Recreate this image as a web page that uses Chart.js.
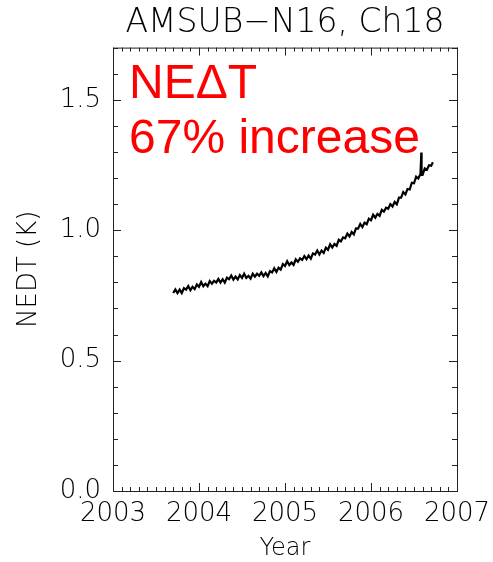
<!DOCTYPE html>
<html>
<head>
<meta charset="utf-8">
<script src="https://cdn.jsdelivr.net/npm/chart.js@4.4.1/dist/chart.umd.min.js"></script>
<style>
  html, body { margin: 0; padding: 0; background: #fff; }
  #wrap { width: 493px; height: 562px; }
</style>
</head>
<body>
<div id="wrap"><canvas id="nedtChart" width="493" height="562"></canvas></div>
<script>
// AMSU-B NOAA-16 channel 18 noise (NEDT) time series
const years = [
    2003.700, 2003.725, 2003.750, 2003.775, 2003.800, 2003.825, 2003.850, 2003.875, 2003.900, 2003.925,
    2003.950, 2003.975, 2004.000, 2004.025, 2004.050, 2004.075, 2004.100, 2004.125, 2004.150, 2004.175,
    2004.200, 2004.225, 2004.250, 2004.275, 2004.300, 2004.325, 2004.350, 2004.375, 2004.400, 2004.425,
    2004.450, 2004.475, 2004.500, 2004.525, 2004.550, 2004.575, 2004.600, 2004.625, 2004.650, 2004.675,
    2004.700, 2004.725, 2004.750, 2004.775, 2004.800, 2004.825, 2004.850, 2004.875, 2004.900, 2004.925,
    2004.950, 2004.975, 2005.000, 2005.025, 2005.050, 2005.075, 2005.100, 2005.125, 2005.150, 2005.175,
    2005.200, 2005.225, 2005.250, 2005.275, 2005.300, 2005.325, 2005.350, 2005.375, 2005.400, 2005.425,
    2005.450, 2005.475, 2005.500, 2005.525, 2005.550, 2005.575, 2005.600, 2005.625, 2005.650, 2005.675,
    2005.700, 2005.725, 2005.750, 2005.775, 2005.800, 2005.825, 2005.850, 2005.875, 2005.900, 2005.925,
    2005.950, 2005.975, 2006.000, 2006.025, 2006.050, 2006.075, 2006.100, 2006.125, 2006.150, 2006.175,
    2006.200, 2006.225, 2006.250, 2006.275, 2006.300, 2006.325, 2006.350, 2006.375, 2006.400, 2006.425,
    2006.450, 2006.475, 2006.500, 2006.525, 2006.550, 2006.575, 2006.585, 2006.588, 2006.600, 2006.625,
    2006.650, 2006.675, 2006.700, 2006.720
];
const nedt = [
    0.759, 0.773, 0.759, 0.772, 0.759, 0.778, 0.772, 0.786, 0.770, 0.783,
    0.774, 0.792, 0.783, 0.801, 0.785, 0.795, 0.785, 0.805, 0.795, 0.806,
    0.799, 0.813, 0.799, 0.812, 0.799, 0.818, 0.812, 0.826, 0.810, 0.822,
    0.811, 0.828, 0.817, 0.833, 0.817, 0.825, 0.814, 0.833, 0.822, 0.833,
    0.825, 0.838, 0.824, 0.836, 0.823, 0.843, 0.838, 0.854, 0.840, 0.856,
    0.849, 0.870, 0.863, 0.881, 0.866, 0.876, 0.867, 0.888, 0.879, 0.892,
    0.886, 0.901, 0.889, 0.903, 0.891, 0.911, 0.907, 0.922, 0.907, 0.922,
    0.913, 0.933, 0.925, 0.946, 0.934, 0.947, 0.940, 0.963, 0.957, 0.972,
    0.969, 0.987, 0.976, 0.993, 0.984, 1.007, 1.006, 1.024, 1.012, 1.029,
    1.023, 1.044, 1.038, 1.059, 1.048, 1.062, 1.055, 1.078, 1.071, 1.086,
    1.082, 1.100, 1.091, 1.108, 1.099, 1.125, 1.125, 1.146, 1.137, 1.158,
    1.156, 1.182, 1.180, 1.205, 1.198, 1.215, 1.298, 1.212, 1.212, 1.237,
    1.232, 1.249, 1.247, 1.260
];

const xMin = 2003, xMax = 2007;
const yMin = 0, yMax = 1.7;
const noteLines = ['NE\u0394T', '67% increase'];

const FONT = '"DejaVu Sans", "Liberation Sans", sans-serif';

// IDL style box with inward ticks on all four sides, plus the red note
const frameTicks = {
    id: 'frameTicks',
    beforeDatasetsDraw(chart) {
        const { ctx, chartArea: a } = chart;
        ctx.save();
        ctx.fillStyle = '#ff0000';
        ctx.font = '48px "Liberation Sans", Arial, sans-serif';
        ctx.textBaseline = 'alphabetic';
        ctx.fillText(noteLines[0], a.left + 16, a.top + 50);
        ctx.fillText(noteLines[1], a.left + 16, a.top + 105);
        ctx.restore();
    },
    afterDraw(chart) {
        const { ctx, chartArea: a, scales: { x, y } } = chart;
        ctx.save();
        ctx.strokeStyle = '#222';
        ctx.lineWidth = 1;
        ctx.strokeRect(a.left + 0.5, a.top + 0.5, a.right - a.left, a.bottom - a.top);
        ctx.beginPath();
        for (let i = 0; i <= 40; i++) {
            const px = Math.round(x.getPixelForValue(xMin + i / 10)) + 0.5;
            const len = i % 10 === 0 ? 8 : 4;
            ctx.moveTo(px, a.bottom); ctx.lineTo(px, a.bottom - len);
            ctx.moveTo(px, a.top); ctx.lineTo(px, a.top + len);
        }
        for (let i = 0; i <= 17; i++) {
            const py = Math.round(y.getPixelForValue(i / 10)) + 0.5;
            const len = i % 5 === 0 ? 8 : 5;
            ctx.moveTo(a.left, py); ctx.lineTo(a.left + len, py);
            ctx.moveTo(a.right, py); ctx.lineTo(a.right - len, py);
        }
        ctx.stroke();
        ctx.restore();
    }
};

const points = years.map((yr, i) => ({ x: yr, y: nedt[i] }));

new Chart(document.getElementById('nedtChart'), {
    type: 'line',
    data: {
        datasets: [{
            data: points,
            borderColor: '#000',
            borderWidth: 2.2,
            pointRadius: 0,
            tension: 0
        }]
    },
    options: {
        responsive: false,
        animation: false,
        layout: { padding: { left: 0, right: 36, top: 0, bottom: 0 } },
        plugins: {
            legend: { display: false },
            tooltip: { enabled: false },
            title: {
                display: true,
                fullSize: false,
                text: 'AMSUB\u2212N16, Ch18',
                color: '#000',
                font: { family: FONT, size: 33, weight: 200, lineHeight: 1.2 },
                padding: { top: 4, bottom: 4 }
            }
        },
        scales: {
            x: {
                type: 'linear',
                min: xMin, max: xMax,
                grid: { display: false, drawTicks: false },
                border: { display: false },
                afterFit: s => { s.height = 71; s.paddingLeft = 0; s.paddingRight = 0; },
                ticks: {
                    stepSize: 1,
                    color: '#000',
                    padding: 8,
                    maxRotation: 0,
                    font: { family: FONT, size: 26, weight: 200 },
                    callback: v => String(v)
                },
                title: {
                    display: true, text: 'Year', color: '#000',
                    font: { family: FONT, size: 24, weight: 200, lineHeight: 1 },
                    padding: { top: 0, bottom: 1 }
                }
            },
            y: {
                min: yMin, max: yMax,
                grid: { display: false, drawTicks: false },
                border: { display: false },
                afterFit: s => { s.width = 113; s.paddingTop = 0; s.paddingBottom = 0; },
                ticks: {
                    stepSize: 0.5,
                    includeBounds: false,
                    color: '#000',
                    padding: 12,
                    font: { family: FONT, size: 26, weight: 200 },
                    callback: v => v.toFixed(1)
                },
                title: {
                    display: true, text: 'NEDT (K)', color: '#000',
                    font: { family: FONT, size: 26, weight: 200, lineHeight: 1 },
                    padding: { top: 16, bottom: 0 }
                }
            }
        }
    },
    plugins: [frameTicks]
});
</script>
</body>
</html>
